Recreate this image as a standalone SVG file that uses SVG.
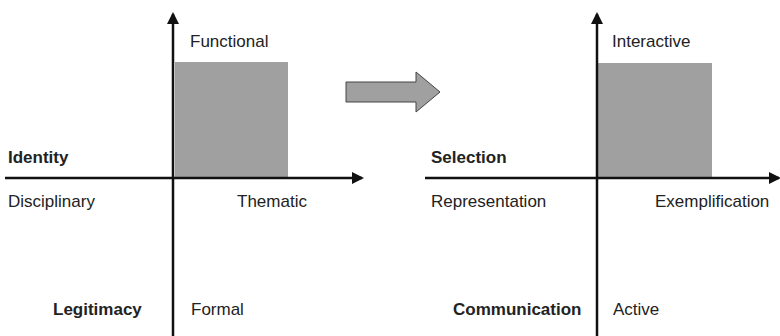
<svg xmlns="http://www.w3.org/2000/svg" width="780" height="336" viewBox="0 0 780 336">
<style>
.t{font-family:"Liberation Sans",Arial,sans-serif;font-size:17px;fill:#222}
.b{font-weight:bold}
.ax{stroke:#111;stroke-width:2.5;fill:none}
.box{fill:#a0a0a0}
</style>
<defs>
<marker id="ah" viewBox="0 0 12 12" refX="10" refY="6" markerWidth="12" markerHeight="12" markerUnits="userSpaceOnUse" orient="auto">
<path d="M0,0 L12,6 L0,12 Z" fill="#111"/>
</marker>
</defs>
<rect width="780" height="336" fill="#fff"/>
<g id="left-box"><rect class="box" x="175" y="62" width="113" height="116"/></g>
<g id="right-box"><rect class="box" x="598" y="63" width="114" height="115"/></g>
<g id="connectors">
<line class="ax" x1="173" y1="336" x2="173" y2="14" marker-end="url(#ah)"/>
<line class="ax" x1="5" y1="178" x2="362" y2="178" marker-end="url(#ah)"/>
<line class="ax" x1="597" y1="336" x2="597" y2="14" marker-end="url(#ah)"/>
<line class="ax" x1="425" y1="178" x2="779" y2="178" marker-end="url(#ah)"/>
</g>
<g id="big-arrow"><path d="M346,82 L416,82 L416,72 L440,92 L416,112 L416,102 L346,102 Z" fill="#a0a0a0" stroke="#444" stroke-width="1"/></g>
<g id="labels-left">
<text class="t" x="190" y="47">Functional</text>
<text class="t b" x="8" y="163">Identity</text>
<text class="t" x="8" y="207">Disciplinary</text>
<text class="t" x="237" y="207">Thematic</text>
<text class="t b" x="53" y="315">Legitimacy</text>
<text class="t" x="191" y="315">Formal</text>
</g>
<g id="labels-right">
<text class="t" x="612" y="47">Interactive</text>
<text class="t b" x="431" y="163">Selection</text>
<text class="t" x="431" y="207">Representation</text>
<text class="t" x="655" y="207">Exemplification</text>
<text class="t b" x="453" y="315">Communication</text>
<text class="t" x="613" y="315">Active</text>
</g>
</svg>
